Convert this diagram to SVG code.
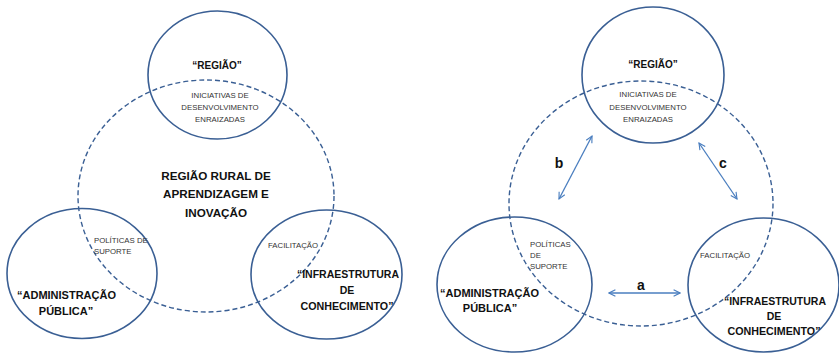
<svg xmlns="http://www.w3.org/2000/svg" width="839" height="353" viewBox="0 0 839 353">
<defs>
<style>
.c{fill:none;stroke:#3A5F94;stroke-width:1.6}
.d{fill:none;stroke:#3A5F94;stroke-width:1.4;stroke-dasharray:5 3}
.b{font-family:"Liberation Sans",Arial,sans-serif;font-weight:bold;fill:#111}
.s{font-family:"Liberation Sans",Arial,sans-serif;font-size:7.8px;fill:#333}
.ar{fill:none;stroke:#4A7EBF;stroke-width:1.3}
</style>
<marker id="ah" viewBox="0 0 10 10" refX="9" refY="5" markerWidth="8" markerHeight="8" orient="auto-start-reverse" markerUnits="userSpaceOnUse">
<polyline points="1,1 9,5 1,9" fill="none" stroke="#4A7EBF" stroke-width="1.4"/>
</marker>
</defs>
<rect width="839" height="353" fill="#fff"/>

<!-- Left panel -->
<g id="L-rural">
<ellipse class="d" cx="206" cy="196" rx="128" ry="116"/>
<text class="b" font-size="11.7" text-anchor="middle" x="216" y="180">REGIÃO RURAL DE</text>
<text class="b" font-size="11.7" text-anchor="middle" x="216" y="198">APRENDIZAGEM E</text>
<text class="b" font-size="11.7" text-anchor="middle" x="216" y="217">INOVAÇÃO</text>
</g>
<g id="L-regiao">
<ellipse class="c" cx="217.5" cy="75" rx="69.5" ry="64"/>
<text class="b" font-size="10" text-anchor="middle" x="217" y="69">“REGIÃO”</text>
<text class="s" text-anchor="middle" x="220" y="98">INICIATIVAS DE</text>
<text class="s" text-anchor="middle" x="220" y="110">DESENVOLVIMENTO</text>
<text class="s" text-anchor="middle" x="220" y="122">ENRAIZADAS</text>
</g>
<g id="L-admin">
<ellipse class="c" cx="82" cy="273.5" rx="75" ry="65"/>
<text class="s" x="94" y="243">POLÍTICAS DE</text>
<text class="s" x="94" y="254">SUPORTE</text>
<text class="b" font-size="11" x="17" y="299">“ADMINISTRAÇÃO</text>
<text class="b" font-size="11" text-anchor="middle" x="66" y="315">PÚBLICA”</text>
</g>
<g id="L-infra">
<ellipse class="c" cx="326.5" cy="274.5" rx="75.5" ry="64.5"/>
<text class="s" x="268" y="248">FACILITAÇÃO</text>
<text class="b" font-size="10.5" text-anchor="middle" x="348" y="278">“INFRAESTRUTURA</text>
<text class="b" font-size="10.5" text-anchor="middle" x="347" y="294">DE</text>
<text class="b" font-size="10.7" text-anchor="middle" x="347" y="310">CONHECIMENTO”</text>
</g>

<!-- Right panel -->
<g id="R-rural">
<ellipse class="d" cx="641" cy="203.5" rx="132" ry="122.5"/>
</g>
<g id="R-regiao">
<ellipse class="c" cx="653" cy="75" rx="71" ry="68"/>
<text class="b" font-size="10" text-anchor="middle" x="653" y="68">“REGIÃO”</text>
<text class="s" text-anchor="middle" x="648" y="97">INICIATIVAS DE</text>
<text class="s" text-anchor="middle" x="648" y="110">DESENVOLVIMENTO</text>
<text class="s" text-anchor="middle" x="648" y="122">ENRAIZADAS</text>
</g>
<g id="R-admin">
<ellipse class="c" cx="514.5" cy="284.5" rx="77.5" ry="67.5"/>
<text class="s" x="530" y="247">POLÍTICAS</text>
<text class="s" x="530" y="258">DE</text>
<text class="s" x="530" y="269">SUPORTE</text>
<text class="b" font-size="11" x="440" y="297">“ADMINISTRAÇÃO</text>
<text class="b" font-size="11" text-anchor="middle" x="490" y="312">PÚBLICA”</text>
</g>
<g id="R-infra">
<ellipse class="c" cx="763.5" cy="285" rx="75.5" ry="67"/>
<text class="s" x="700" y="258">FACILITAÇÃO</text>
<text class="b" font-size="10.5" text-anchor="middle" x="775" y="305">“INFRAESTRUTURA</text>
<text class="b" font-size="10.5" text-anchor="middle" x="774" y="320">DE</text>
<text class="b" font-size="10.7" text-anchor="middle" x="774" y="335">CONHECIMENTO”</text>
</g>

<g id="connectors">
<line class="ar" x1="559" y1="199" x2="592" y2="136" marker-start="url(#ah)" marker-end="url(#ah)"/>
<line class="ar" x1="699" y1="143" x2="737" y2="199" marker-start="url(#ah)" marker-end="url(#ah)"/>
<line class="ar" x1="609" y1="293" x2="680" y2="293" marker-start="url(#ah)" marker-end="url(#ah)"/>
<text class="b" font-size="14" text-anchor="middle" x="559" y="168">b</text>
<text class="b" font-size="14" text-anchor="middle" x="723" y="168">c</text>
<text class="b" font-size="14" text-anchor="middle" x="641" y="290">a</text>
</g>
</svg>
